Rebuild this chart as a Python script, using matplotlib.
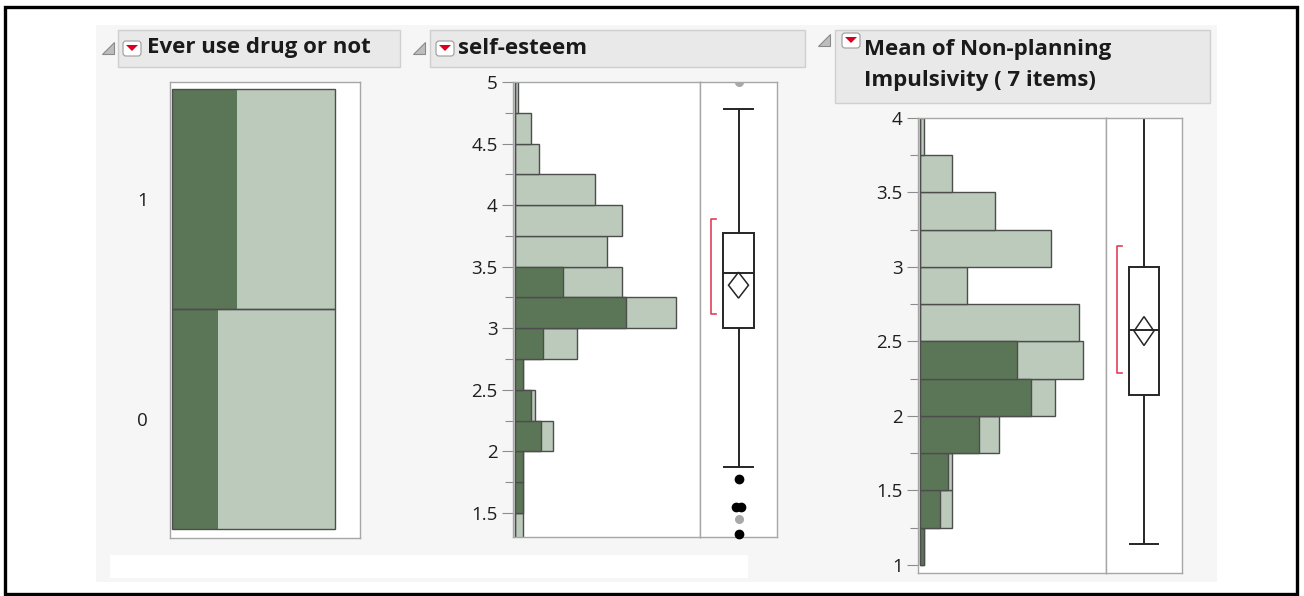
import matplotlib
matplotlib.use('Agg')
import matplotlib.pyplot as plt
from matplotlib.patches import Rectangle, Polygon, FancyBboxPatch
import numpy as np

W, H = 1304, 596

# ---- data ----
drug_levels = ['0', '1']
drug_share = [0.5, 0.5]          # share of each level (bottom to top)
drug_selected = [0.28, 0.40]     # highlighted (dark) fraction in each level

bin_width = 0.25
se_bins = [1.25, 1.5, 1.75, 2.0, 2.25, 2.5, 2.75, 3.0, 3.25, 3.5, 3.75, 4.0, 4.25, 4.5, 4.75]
se_all = [2, 2, 2, 9.5, 5, 2, 15.5, 40.5, 27, 23, 27, 20, 6, 4, 0.8]
se_sel = [0, 2, 2, 6.5, 4, 2, 7, 28, 12, 0, 0, 0, 0, 0, 0]
se_box = dict(q1=3.0, med=3.45, q3=3.77, whislo=1.875, whishi=4.78)
se_mean, se_ci = 3.35, 0.105
se_short_half = (3.12, 3.89)
se_outliers = [1.78, 1.55, 1.55, 1.33]
se_outliers_grey = [1.45, 5.0]

imp_bins = [1.0, 1.25, 1.5, 1.75, 2.0, 2.25, 2.5, 2.75, 3.0, 3.25, 3.5, 3.75]
imp_all = [1, 8, 8, 20, 34, 41, 40, 12, 33, 19, 8, 1]
imp_sel = [1, 5, 7, 15, 28, 24.5, 0, 0, 0, 0, 0, 0]
imp_box = dict(q1=2.14, med=2.577, q3=3.0, whislo=1.14, whishi=4.0)
imp_mean, imp_ci = 2.57, 0.097
imp_short_half = (2.29, 3.14)

# ---- colours ----
dark = '#5b7656'
light = '#bccabb'
edge = '#4d4d4d'
frame = '#a6a6a6'
red = '#e0405a'
ink = '#262626'

plt.rcParams['font.family'] = ['Open Sans', 'DejaVu Sans']

fig = plt.figure(figsize=(W / 100, H / 100), dpi=100)


def px(x0, y0, x1, y1):
    return [x0 / W, 1 - y1 / H, (x1 - x0) / W, (y1 - y0) / H]


# background layer in pixel coordinates
bg = fig.add_axes([0, 0, 1, 1])
bg.set_xlim(0, W)
bg.set_ylim(H, 0)
bg.axis('off')
bg.add_patch(Rectangle((5, 7), 1292, 587, fill=False, ec='black', lw=2.4))
bg.add_patch(Rectangle((96, 25), 1121, 557, fc='#f6f6f6', ec='none'))
bg.add_patch(Rectangle((110, 555), 638, 23, fc='white', ec='none'))


def header(x0, x1, y0, y1, tri_x, icon_x, icon_y, text_x, text, text_y):
    bg.add_patch(Rectangle((x0, y0), x1 - x0, y1 - y0, fc='#e9e9e9', ec='#cfcfcf', lw=1))
    bg.add_patch(Polygon([(tri_x, icon_y + 13), (tri_x + 12, icon_y + 13), (tri_x + 12, icon_y + 1)],
                         closed=True, fc='#bdbdbd', ec='#8a8a8a', lw=0.8))
    bg.add_patch(FancyBboxPatch((icon_x, icon_y), 18, 15, boxstyle='round,pad=0,rounding_size=3',
                                fc='white', ec='#9a9a9a', lw=0.8))
    bg.add_patch(Polygon([(icon_x + 3, icon_y + 4), (icon_x + 15, icon_y + 4), (icon_x + 9, icon_y + 10)],
                         closed=True, fc='#d8001e', ec='none'))
    bg.text(text_x, text_y, text, fontsize=16, fontweight='bold', va='center', ha='left',
            color='#1a1a1a', linespacing=1.62)


header(118, 400, 30, 67, 102, 123, 41, 147, 'Ever use drug or not', 48)
header(430, 805, 30, 67, 413, 436, 41, 458, 'self-esteem', 48)
header(835, 1210, 30, 103, 818, 842, 33, 864, 'Mean of Non-planning\nImpulsivity ( 7 items)', 65)

# ---- panel 1: mosaic ----
ax1 = fig.add_axes(px(170, 82, 360, 538))
bottoms = np.cumsum([0] + drug_share[:-1])
ax1.barh(bottoms, [1] * len(drug_share), height=drug_share, align='edge',
         color=light, edgecolor='none')
ax1.barh(bottoms, drug_selected, height=drug_share, align='edge',
         color=dark, edgecolor='none')
ax1.barh(bottoms, [1] * len(drug_share), height=drug_share, align='edge',
         fill=False, edgecolor=edge, lw=1)
ax1.set_xlim(-0.012, 1.153)
ax1.set_ylim(-0.02, 1.016)
ax1.set_xticks([])
ax1.set_yticks(bottoms + np.array(drug_share) / 2)
ax1.set_yticklabels(drug_levels, fontsize=13.5, color='#1e1e1e')
ax1.tick_params(axis='y', length=0, pad=16)
for s in ax1.spines.values():
    s.set_color(frame)
    s.set_linewidth(1)


def hist_panel(rect, bins, counts, sel, ylim, ticks, xmax):
    ax = fig.add_axes(rect)
    ax.barh(bins, counts, height=bin_width, align='edge', color=light, edgecolor=edge, lw=1)
    ax.barh(bins, sel, height=bin_width, align='edge', color=dark, edgecolor=edge, lw=1)
    ax.set_ylim(*ylim)
    ax.set_xlim(-0.4, xmax)
    ax.set_xticks([])
    ax.set_yticks(ticks)
    ax.set_yticklabels([('%g' % t) for t in ticks], fontsize=13.5, color='#1e1e1e')
    ax.set_yticks(np.array(ticks[:-1]) + bin_width, minor=True)
    ax.tick_params(axis='y', which='major', length=8, width=0.8, color='#8c8c8c', pad=3)
    ax.tick_params(axis='y', which='minor', length=6, width=0.8, color='#8c8c8c')
    for s in ax.spines.values():
        s.set_color(frame)
        s.set_linewidth(1)
    return ax


def box_panel(rect, stats, ylim, mean, ci, short_half):
    ax = fig.add_axes(rect)
    ax.bxp([stats], positions=[0.5], widths=0.4, capwidths=0.38, showfliers=False,
           patch_artist=True,
           boxprops=dict(facecolor='white', edgecolor=ink, lw=1.4),
           whiskerprops=dict(color=ink, lw=1.4),
           capprops=dict(color=ink, lw=1.4),
           medianprops=dict(color=ink, lw=1.4))
    hw = 0.13
    ax.add_patch(Polygon([(0.5 - hw, mean), (0.5, mean + ci), (0.5 + hw, mean), (0.5, mean - ci)],
                         closed=True, fill=False, ec=ink, lw=1.1, zorder=5))
    lo, hi = short_half
    ax.plot([0.21, 0.14, 0.14, 0.21], [lo, lo, hi, hi], color=red, lw=1.2)
    ax.set_xlim(0, 1)
    ax.set_ylim(*ylim)
    ax.set_xticks([])
    ax.set_yticks([])
    for s in ax.spines.values():
        s.set_color(frame)
        s.set_linewidth(1)
    return ax


# ---- panel 2: self-esteem ----
hist_panel(px(513, 82, 700, 537), se_bins, se_all, se_sel, (1.305, 5.0),
           [1.5, 2, 2.5, 3, 3.5, 4, 4.5, 5], 46.4)
bx2 = box_panel(px(700, 82, 777, 537), se_box, (1.305, 5.0), se_mean, se_ci, se_short_half)
jitter = [0, -0.035, 0.035, 0]
bx2.scatter(0.5 + np.array(jitter), se_outliers, s=36, color='black', zorder=6, clip_on=False)
bx2.scatter([0.5] * len(se_outliers_grey), se_outliers_grey, s=30, color='#a8a8a8', zorder=6)

# ---- panel 3: non-planning impulsivity ----
hist_panel(px(918, 118, 1106, 573), imp_bins, imp_all, imp_sel, (0.946, 4.0),
           [1, 1.5, 2, 2.5, 3, 3.5, 4], 46.7)
box_panel(px(1106, 118, 1182, 573), imp_box, (0.946, 4.0), imp_mean, imp_ci, imp_short_half)

fig.savefig('out.png', dpi=100)
